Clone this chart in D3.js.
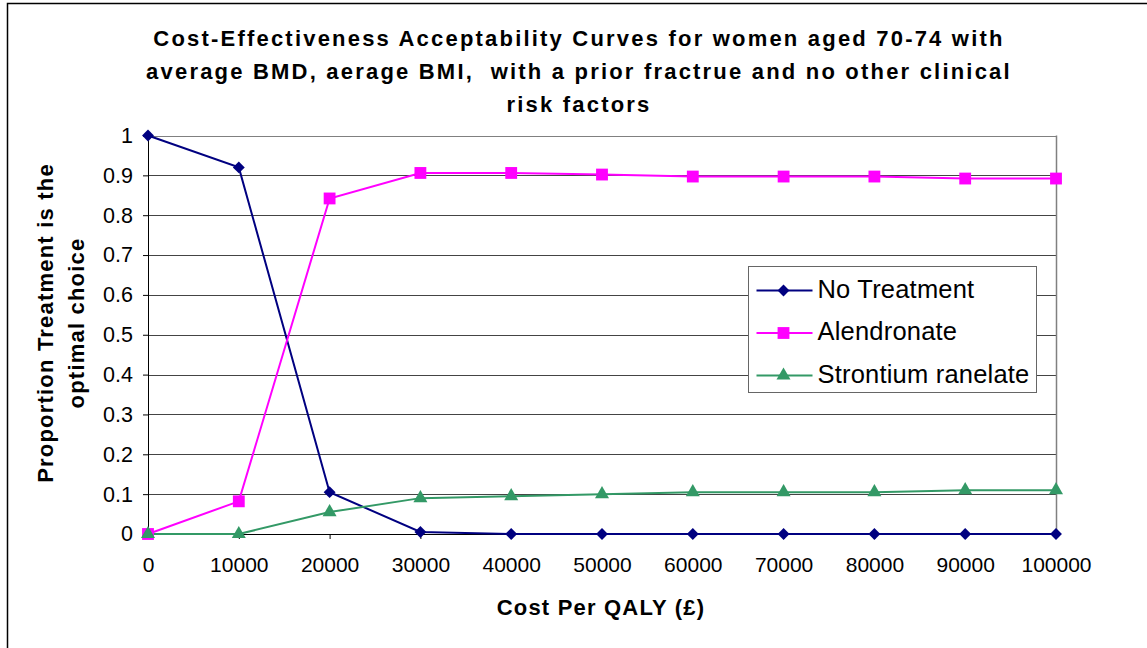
<!DOCTYPE html>
<html>
<head>
<meta charset="utf-8">
<script src="https://cdn.jsdelivr.net/npm/d3@7"></script>
<style>
  body { margin: 0; background: #fff; }
  svg text { font-family: "Liberation Sans", Arial, sans-serif; white-space: pre; }
</style>
</head>
<body>
<div id="chart"></div>
<script>
const costs = [0, 10000, 20000, 30000, 40000, 50000, 60000, 70000, 80000, 90000, 100000];
const noTreatment = [1, 0.92, 0.105, 0.005, 0, 0, 0, 0, 0, 0, 0];
const alendronate = [0, 0.082, 0.842, 0.906, 0.906, 0.902, 0.897, 0.897, 0.897, 0.892, 0.892];
const strontium = [0, 0, 0.055, 0.09, 0.095, 0.1, 0.105, 0.105, 0.105, 0.11, 0.11];
const yTicks = [0, 0.1, 0.2, 0.3, 0.4, 0.5, 0.6, 0.7, 0.8, 0.9, 1];
const titleLines = [
  "Cost-Effectiveness Acceptability Curves for women aged 70-74 with",
  "average BMD, aerage BMI,  with a prior fractrue and no other clinical",
  "risk factors"
];

const series = [
  { name: "No Treatment", values: noTreatment, color: "#000080", shape: "diamond" },
  { name: "Alendronate", values: alendronate, color: "#FF00FF", shape: "square" },
  { name: "Strontium ranelate", values: strontium, color: "#339966", shape: "triangle" }
];

const width = 1147, height = 648;
const plotLeft = 148, plotRight = 1056, plotTop = 135.5, plotBottom = 534;

const svg = d3.select("#chart").append("svg")
  .attr("width", width)
  .attr("height", height);

// outer chart frame
svg.append("rect")
  .attr("x", 7.5).attr("y", 3.5)
  .attr("width", width + 10).attr("height", height + 10)
  .attr("fill", "#fff").attr("stroke", "#000").attr("stroke-width", 1.5);

const x = d3.scaleLinear().domain([0, 100000]).range([plotLeft, plotRight]);
const y = d3.scaleLinear().domain([0, 1]).range([plotBottom, plotTop]);

// gridlines
svg.append("g")
  .selectAll("line")
  .data(yTicks.filter(d => d > 0))
  .join("line")
  .attr("x1", plotLeft).attr("x2", plotRight)
  .attr("y1", d => Math.round(y(d)) + 0.5)
  .attr("y2", d => Math.round(y(d)) + 0.5)
  .attr("stroke", d => d === 1 ? "#808080" : "#444")
  .attr("stroke-width", 1);

// right plot border
svg.append("line")
  .attr("x1", plotRight + 0.5).attr("x2", plotRight + 0.5)
  .attr("y1", y(1)).attr("y2", plotBottom)
  .attr("stroke", "#808080").attr("stroke-width", 1.5);

// axes
const yAxis = svg.append("g")
  .attr("transform", `translate(${plotLeft},0)`)
  .call(d3.axisLeft(y).tickValues(yTicks).tickSize(5).tickPadding(10)
    .tickFormat(d => d === 0 || d === 1 ? d3.format("d")(d) : d3.format(".1f")(d)));
yAxis.select(".domain").attr("stroke", "#000");
yAxis.selectAll("text").attr("font-size", 21.5).attr("fill", "#000")
  .style("font-family", "'Liberation Sans', Arial, sans-serif");

const xAxis = svg.append("g")
  .attr("transform", `translate(0,${plotBottom})`)
  .call(d3.axisBottom(x).tickValues(costs).tickSize(5).tickFormat(d3.format("d")));
xAxis.select(".domain").attr("stroke", "#000");
xAxis.selectAll("text").attr("font-size", 21).attr("fill", "#000")
  .attr("y", 38).attr("dy", 0)
  .style("font-family", "'Liberation Sans', Arial, sans-serif");

// lines and markers
const line = d3.line().x((d, i) => x(costs[i])).y(d => y(d));

const symbolFor = {
  diamond: d3.symbol().type(d3.symbolDiamond2).size(90),
  square: d3.symbol().type(d3.symbolSquare).size(140),
  triangle: d3.symbol().type(d3.symbolTriangle).size(85)
};

series.forEach(s => {
  svg.append("path")
    .datum(s.values)
    .attr("d", line)
    .attr("fill", "none")
    .attr("stroke", s.color)
    .attr("stroke-width", 2);
});

series.forEach(s => {
  svg.append("g")
    .selectAll("path")
    .data(s.values)
    .join("path")
    .attr("transform", (d, i) => `translate(${x(costs[i])},${y(d)})`)
    .attr("d", symbolFor[s.shape])
    .attr("fill", s.color);
});

// legend
const legend = svg.append("g").attr("transform", "translate(748.5,266.5)");
legend.append("rect")
  .attr("width", 288).attr("height", 126)
  .attr("fill", "#fff").attr("stroke", "#666").attr("stroke-width", 1);

series.forEach((s, i) => {
  const ly = 24 + i * 42.5;
  legend.append("line")
    .attr("x1", 8).attr("x2", 64)
    .attr("y1", ly).attr("y2", ly)
    .attr("stroke", s.color).attr("stroke-width", 2);
  legend.append("path")
    .attr("transform", `translate(35,${ly})`)
    .attr("d", symbolFor[s.shape])
    .attr("fill", s.color);
  legend.append("text")
    .attr("x", 69).attr("y", ly + 7)
    .attr("font-size", 25.5)
    .attr("letter-spacing", 0.2)
    .text(s.name);
});

// title
svg.append("g")
  .selectAll("text")
  .data(titleLines)
  .join("text")
  .attr("x", 579)
  .attr("y", (d, i) => 46 + i * 33)
  .attr("text-anchor", "middle")
  .attr("font-size", 22)
  .attr("letter-spacing", 2.2)
  .attr("font-weight", "bold")
  .text(d => d);

// axis titles
svg.append("text")
  .attr("x", 601)
  .attr("y", 615)
  .attr("text-anchor", "middle")
  .attr("font-size", 22)
  .attr("letter-spacing", 1.2)
  .attr("font-weight", "bold")
  .text("Cost Per QALY (£)");

const yTitle = svg.append("g").attr("transform", "translate(53,323) rotate(-90)");
yTitle.append("text")
  .attr("x", 0).attr("y", 0)
  .attr("text-anchor", "middle")
  .attr("font-size", 22)
  .attr("letter-spacing", 1.2)
  .attr("font-weight", "bold")
  .text("Proportion Treatment is the");
yTitle.append("text")
  .attr("x", 0).attr("y", 31)
  .attr("text-anchor", "middle")
  .attr("font-size", 22)
  .attr("letter-spacing", 1.2)
  .attr("font-weight", "bold")
  .text("optimal choice");
</script>
</body>
</html>
